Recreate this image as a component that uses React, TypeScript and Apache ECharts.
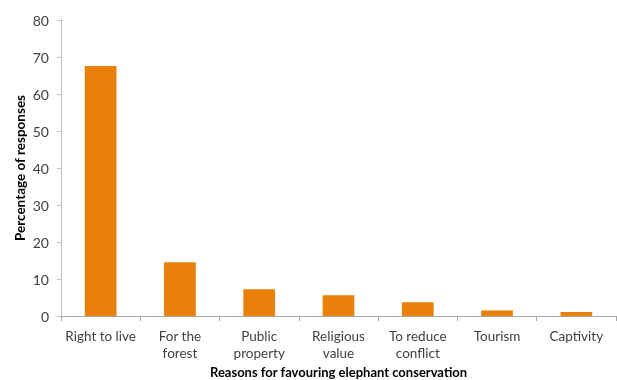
import React, { useEffect, useRef } from "react";
import * as echarts from "echarts";

const categories = [
  "Right to live",
  "For the\nforest",
  "Public\nproperty",
  "Religious\nvalue",
  "To reduce\nconflict",
  "Tourism",
  "Captivity",
];
const values = [67.6, 14.5, 7.2, 5.6, 3.7, 1.5, 1.1];
const yTicks = { min: 0, max: 80, interval: 10 };

export default function App() {
  const ref = useRef<HTMLDivElement>(null);
  useEffect(() => {
    document.body.style.margin = "0";
    document.body.style.overflow = "hidden";
    const chart = echarts.init(ref.current!, null, { renderer: "svg", width: 617, height: 380 });
    const font = "Lato, 'Open Sans', sans-serif";
    chart.setOption({
      animation: false,
      grid: { left: 61, right: 1, top: 20, bottom: 64, containLabel: false, outerBoundsMode: "none" },
      xAxis: {
        type: "category",
        data: categories,
        name: "Reasons for favouring elephant conservation",
        nameLocation: "middle",
        nameGap: 49,
        nameMoveOverlap: false,
        nameTextStyle: { fontFamily: font, fontWeight: "bold", fontSize: 13, lineHeight: 14, color: "#000" },
        axisLine: { lineStyle: { color: "#a6a6a6", width: 1 } },
        axisTick: { show: true, alignWithLabel: false, length: 5, lineStyle: { color: "#a6a6a6" } },
        axisLabel: { fontFamily: font, fontSize: 13.5, color: "#404040", margin: 11, lineHeight: 17, interval: 0 },
      },
      yAxis: {
        type: "value",
        min: yTicks.min,
        max: yTicks.max,
        interval: yTicks.interval,
        name: "Percentage of responses",
        nameLocation: "middle",
        nameGap: 34,
        nameMoveOverlap: false,
        nameRotate: 90,
        nameTextStyle: { fontFamily: font, fontWeight: "bold", fontSize: 13.5, color: "#000" },
        axisLine: { show: true, lineStyle: { color: "#bfbfbf", width: 1 } },
        axisTick: { show: true, length: 4, lineStyle: { color: "#bfbfbf" } },
        splitLine: { show: false },
        axisLabel: { fontFamily: font, fontSize: 14, color: "#404040", margin: 12 },
      },
      series: [
        {
          type: "bar",
          data: values,
          barWidth: "40%",
          itemStyle: { color: "#E8800A" },
        },
      ],
    });
    return () => chart.dispose();
  }, []);
  return <div ref={ref} style={{ position: "fixed", left: 0, top: 0, width: 617, height: 380 }} />;
}
